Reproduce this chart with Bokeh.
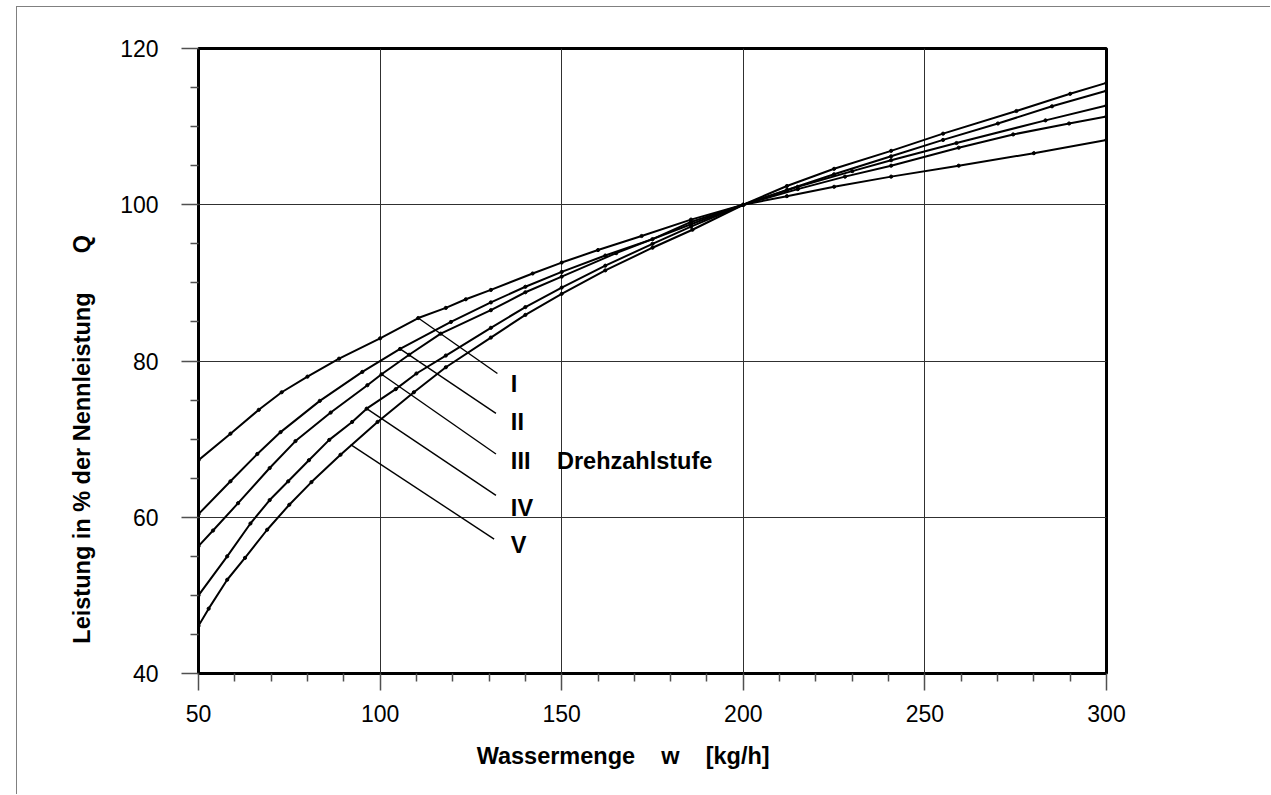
from bokeh.plotting import figure
from bokeh.models import FixedTicker, ColumnDataSource
from bokeh.core.properties import value
from bokeh.embed import file_html
from bokeh.resources import INLINE

# ---- data ----
w_I = [50, 58.8, 66.6, 72.9, 80.0, 88.7, 100, 110.5, 118.1, 123.6, 130.5, 142, 150, 160, 172, 185.6, 200, 212, 225, 240.7, 259.3, 280, 300]
q_I = [67.3, 70.7, 73.75, 76.0, 78.0, 80.3, 82.9, 85.5, 86.8, 87.9, 89.1, 91.2, 92.6, 94.2, 96.0, 98.1, 100, 101.1, 102.3, 103.6, 105.0, 106.6, 108.3]

w_II = [50, 58.8, 66.2, 72.6, 83.4, 95.1, 105.5, 119.5, 130.5, 140, 150, 162, 175, 185.6, 200, 215, 228, 240.7, 259.3, 274.3, 289.7, 300]
q_II = [60.4, 64.6, 68.1, 70.9, 74.9, 78.6, 81.55, 85.0, 87.5, 89.5, 91.4, 93.5, 95.6, 97.8, 100, 102.0, 103.6, 105.0, 107.3, 109.0, 110.4, 111.3]

w_III = [50, 54, 60.9, 69.6, 76.7, 86.4, 96.5, 100.4, 108, 116.7, 130.5, 140, 150, 165, 185.6, 200, 215, 230, 240.7, 258.7, 283.2, 300]
q_III = [56.3, 58.3, 61.8, 66.3, 69.75, 73.4, 76.9, 78.3, 80.8, 83.5, 86.5, 88.8, 90.8, 93.8, 97.5, 100, 102.3, 104.3, 105.7, 107.9, 110.8, 112.7]

w_IV = [50, 57.9, 64.3, 69.6, 74.7, 80.4, 86, 92.3, 96.3, 104.3, 110, 118.1, 130.5, 140, 150, 162, 175, 185.6, 200, 212, 225, 240.7, 255, 270.1, 285, 300]
q_IV = [50.0, 55.0, 59.2, 62.2, 64.6, 67.3, 69.9, 72.2, 73.9, 76.4, 78.4, 80.7, 84.25, 86.9, 89.4, 92.2, 95.0, 97.2, 100, 101.9, 103.9, 106.2, 108.3, 110.4, 112.6, 114.6]

w_V = [50, 52.8, 57.9, 62.8, 68.9, 75, 81.1, 89.1, 99.3, 109.3, 118.1, 130.5, 140, 150, 162, 175, 186, 200, 212, 225, 240.7, 255, 275.2, 290, 300]
q_V = [46.1, 48.3, 52.0, 54.8, 58.4, 61.6, 64.5, 68.0, 72.2, 76.0, 79.2, 83.0, 85.9, 88.6, 91.6, 94.5, 96.8, 100, 102.4, 104.6, 106.9, 109.1, 112.0, 114.2, 115.6]

stage_names = ["I", "II", "III", "IV", "V"]
leader_w0 = [110.5, 105.5, 100.4, 96.3, 91.9]
leader_q0 = [85.5, 81.55, 78.3, 73.9, 69.3]
leader_w1 = [132.3, 131.9, 131.9, 131.9, 131.4]
leader_q1 = [78.4, 73.3, 68.1, 62.8, 57.2]
label_w = [136.0, 136.0, 136.0, 136.0, 136.0]
label_q = [77.1, 72.2, 67.2, 61.2, 56.4]

x_ticks = [50, 100, 150, 200, 250, 300]
x_minor = [60, 70, 80, 90, 110, 120, 130, 140, 160, 170, 180, 190, 210, 220, 230, 240, 260, 270, 280, 290]
y_ticks = [40, 60, 80, 100, 120]
y_minor = [45, 50, 55, 65, 70, 75, 85, 90, 95, 105, 110, 115]

NB = "\u00a0"
x_title = "Wassermenge" + NB * 4 + "w" + NB * 4 + "[kg/h]" + NB * 9
y_title = "Leistung in % der Nennleistung" + NB * 6 + "Q" + NB * 24

FONT = "Liberation Sans"

p = figure(width=1254, height=788, x_range=(50, 300), y_range=(40, 120),
           output_backend="svg", toolbar_location=None,
           min_border_left=181, min_border_right=165, min_border_top=41, min_border_bottom=122)
p.margin = (6, 0, 0, 16)
p.styles = {"border-left": "1px solid #808080", "border-top": "1px solid #808080"}
p.background_fill_color = "white"
p.border_fill_color = "white"
p.outline_line_color = "black"
p.outline_line_width = 3

for ax, maj, mnr in ((p.xaxis[0], x_ticks, x_minor), (p.yaxis[0], y_ticks, y_minor)):
    ax.ticker = FixedTicker(ticks=maj, minor_ticks=mnr)
    ax.axis_line_color = None
    ax.major_tick_in = 0
    ax.major_tick_out = 17
    ax.minor_tick_in = 0
    ax.minor_tick_out = 8
    ax.major_tick_line_color = "#505050"
    ax.minor_tick_line_color = "#505050"
    ax.major_tick_line_width = 1.5
    ax.minor_tick_line_width = 1.5
    ax.major_label_text_font = FONT
    ax.major_label_text_font_size = "23px"
    ax.major_label_text_color = "black"
    ax.axis_label_text_font = FONT
    ax.axis_label_text_font_size = "23.5px"
    ax.axis_label_text_font_style = "bold"
    ax.axis_label_text_color = "black"
p.xaxis.major_label_standoff = 14
p.yaxis.major_label_standoff = 23
p.xaxis.axis_label = x_title
p.yaxis.axis_label = y_title
p.xaxis.axis_label_standoff = 18
p.yaxis.axis_label_standoff = 22

p.xgrid.ticker = FixedTicker(ticks=x_ticks)
p.ygrid.ticker = FixedTicker(ticks=y_ticks)
p.grid.grid_line_color = "#303030"
p.grid.grid_line_width = 1

for ws, qs in ((w_I, q_I), (w_II, q_II), (w_III, q_III), (w_IV, q_IV), (w_V, q_V)):
    p.line(ws, qs, line_color="black", line_width=2)
    p.scatter(ws, qs, marker="circle", size=3.2, fill_color="black", line_color="black")

p.segment(x0=leader_w0, y0=leader_q0, x1=leader_w1, y1=leader_q1, line_color="black", line_width=1.4)

src = ColumnDataSource(dict(x=label_w, y=label_q, t=stage_names))
p.text(x="x", y="y", text="t", source=src, text_font=value(FONT), text_font_style="bold",
       text_font_size="23.5px", text_baseline="middle", text_align="left", text_color="black")
p.text(x=[148.7], y=[label_q[2]], text=["Drehzahlstufe"], text_font=value(FONT), text_font_style="bold",
       text_font_size="23.5px", text_baseline="middle", text_align="left", text_color="black")

open("out.html", "w").write(file_html(p, INLINE))
